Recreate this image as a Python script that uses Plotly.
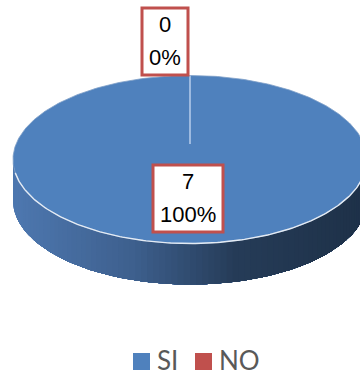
import numpy as np
import plotly.graph_objects as go

# Survey answers
categories = ["SI", "NO"]
counts = [7, 0]
slice_colors = ["#4f81bd", "#c0504d"]
label_color = "#c0504d"
legend_text = "#595959"

total = sum(counts)
shares = [c / total for c in counts]

# Projected disc geometry, in page pixels
cx, cy, rx, ry, depth = 190, 159.5, 177, 84, 41
apex_y = 144  # inner end of the slice divider


def rim(theta):
    """Point on the top ellipse; theta runs clockwise from twelve o'clock."""
    return cx + rx * np.sin(theta), cy - ry * np.cos(theta)


def blend(t):
    """Shade of the outer wall, light on the left and dark on the right."""
    stops = [(0.0, (78, 120, 176)), (0.33, (62, 96, 142)), (0.62, (38, 60, 88)), (1.0, (30, 49, 72))]
    for (a, ca), (b, cb) in zip(stops, stops[1:]):
        if t <= b:
            k = (t - a) / (b - a)
            return "rgb(%d,%d,%d)" % tuple(ca[i] + (cb[i] - ca[i]) * k for i in range(3))
    return "rgb(30,49,72)"


fig = go.Figure()

# Outer wall: each layer reaches the right end and is covered by the next,
# which gives a smooth left-to-right shade without seams
edges = np.linspace(3 * np.pi / 2, np.pi / 2, 91)
for i in range(len(edges) - 1):
    arc = edges[i:]
    xs, ys = rim(arc)
    colour = blend((xs[0] - (cx - rx)) / (2 * rx))
    fig.add_trace(go.Scatter(
        x=np.r_[xs, xs[::-1], xs[0]], y=np.r_[ys, ys[::-1] + depth, ys[0]],
        mode="lines", fill="toself", fillcolor=colour,
        line=dict(width=0), hoverinfo="skip", showlegend=False))

# Top faces of the slices, one per category
start = 0.0
boundaries = []
for name, share, colour in zip(categories, shares, slice_colors):
    boundaries.append(start)
    if share > 0:
        theta = np.linspace(start, start + share * 2 * np.pi, 361)
        xs, ys = rim(theta)
        fig.add_trace(go.Scatter(
            x=xs, y=ys, mode="lines", fill="toself", fillcolor=colour,
            line=dict(color="#7f9fc8", width=0.8), hoverinfo="skip", showlegend=False))
    start += share * 2 * np.pi

# Pale highlight along the front of the rim
front = np.linspace(1.5 * np.pi - 0.16, 0.5 * np.pi + 0.16, 181)
xs, ys = rim(front)
fig.add_trace(go.Scatter(x=xs, y=ys, mode="lines", line=dict(color="#e4ebf4", width=1.4),
                         hoverinfo="skip", showlegend=False))

# Slice divider running in from the rim
ex, ey = rim(boundaries[0])
fig.add_trace(go.Scatter(x=[cx, ex], y=[apex_y, ey], mode="lines", line=dict(color="#9dbae0", width=2),
                         hoverinfo="skip", showlegend=False))

# Legend keys and their names
legend_keys = {"SI": 141.5, "NO": 203.5}
legend_names = {"SI": 157, "NO": 219}
legend_y = 360
annotations = []
for name, colour in zip(categories, slice_colors):
    fig.add_trace(go.Scatter(x=[legend_keys[name]], y=[361.5], mode="markers", name=name,
                             marker=dict(symbol="square", size=17, color=colour),
                             hoverinfo="name", showlegend=False))
    annotations.append(dict(x=legend_names[name], y=legend_y, xref="x", yref="y", text=name,
                            showarrow=False, xanchor="left", xshift=-2,
                            font=dict(family="Lato", size=26, color=legend_text)))

# Value and percentage boxes
box_sizes = {"SI": (70, 67), "NO": (46, 67)}
anchors = {"SI": (188, 198.5), "NO": (165, 41.5)}
shapes = []
for name, count, share in zip(categories, counts, shares):
    bx, by = anchors[name]
    w, h = box_sizes[name]
    shapes.append(dict(type="rect", xref="x", yref="y", x0=bx - w / 2, x1=bx + w / 2,
                       y0=by - h / 2, y1=by + h / 2, fillcolor="white",
                       line=dict(color=label_color, width=3), layer="above"))
    for text, dy in ((str(count), -17), (f"{share:.0%}", 16)):
        annotations.append(dict(x=bx, y=by + dy, xref="x", yref="y", text=text, showarrow=False,
                                font=dict(family="Liberation Sans", size=22, color="#000000")))

fig.update_layout(
    width=360, height=376, margin=dict(l=0, r=0, t=0, b=0),
    paper_bgcolor="white", plot_bgcolor="white",
    xaxis=dict(range=[0, 360], visible=False, fixedrange=True),
    yaxis=dict(range=[376, 0], visible=False, fixedrange=True),
    shapes=shapes, annotations=annotations, showlegend=False,
)

fig.write_html("out.html", config={"displayModeBar": False})
